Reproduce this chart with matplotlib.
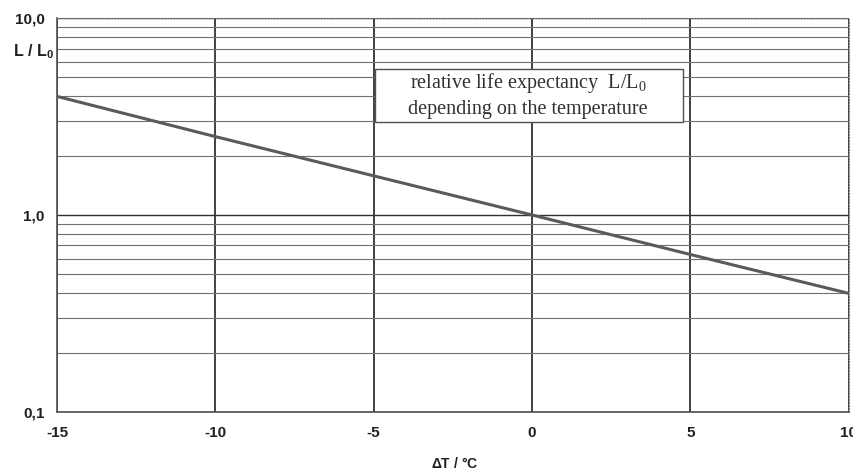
import numpy as np
import matplotlib.pyplot as plt
from matplotlib.patches import Rectangle
from matplotlib.ticker import FixedLocator, FixedFormatter, LogLocator, NullFormatter

plt.rcParams['axes.unicode_minus'] = False

# values
delta_t = [-15, -10, -5, 0, 5, 10]
life_ratio = [4.0, 2.5, 1.58, 1.0, 0.63, 0.4]

x_ticks = [-15, -10, -5, 0, 5, 10]
y_ticks = [0.1, 1.0, 10.0]
y_labels = ['0,1', '1,0', '10,0']

fig = plt.figure(figsize=(8.54, 4.74), dpi=100)
ax = fig.add_axes([0.0667, 0.131, 0.927, 0.831])

ax.set_yscale('log')
ax.set_xlim(-15, 10)
ax.set_ylim(0.1, 10)

# grid: horizontal minor lines, vertical lines every 5 K
ax.yaxis.set_minor_locator(LogLocator(base=10, subs=np.arange(2, 10)))
ax.yaxis.set_minor_formatter(NullFormatter())
ax.grid(which='minor', axis='y', color='#707070', lw=0.8)
ax.grid(which='major', axis='y', color='#303030', lw=1.0)
ax.grid(which='major', axis='x', color='#202020', lw=1.2)

ax.plot(delta_t, life_ratio, color='#5a5a5a', lw=2.2, zorder=3)

ax.xaxis.set_major_locator(FixedLocator(x_ticks))
ax.yaxis.set_major_locator(FixedLocator(y_ticks))
ax.yaxis.set_major_formatter(FixedFormatter(y_labels))
ax.tick_params(axis='x', length=0, pad=10, labelsize=11, colors='#202020')
ax.tick_params(axis='y', which='both', length=0, pad=9, labelsize=11, colors='#202020')
for lab in ax.get_xticklabels() + ax.get_yticklabels():
    lab.set_fontweight('bold')
    lab.set_family('Liberation Sans')

for side in ['top', 'right']:
    ax.spines[side].set_linestyle(':')
    ax.spines[side].set_color('#808080')
for side in ['left', 'bottom']:
    ax.spines[side].set_color('#505050')
    ax.spines[side].set_linewidth(1.2)

fig.text(455 / 854, 1 - 464 / 474, r'$\mathregular{\Delta}$T / °C', ha='center', va='center',
         fontsize=10, fontweight='bold', family='Liberation Sans', color='#202020')
fig.text(13 / 854, 1 - 52 / 474, r'L / L$_\mathregular{0}$', ha='left', va='center',
         fontsize=11.5, fontweight='bold', family='Liberation Sans', color='#202020')

# caption box
ax.add_patch(Rectangle((-4.96, 2.97), 9.72, 2.53, fc='white', ec='#505050', lw=1.0, zorder=4))
ax.text(-0.13, 4.05, 'relative life expectancy  L/L$_\\mathregular{0}$\ndepending on the temperature',
        ha='center', va='center', fontsize=14.5, family='Liberation Serif', color='#303030',
        linespacing=1.35, zorder=5)

fig.savefig('out.png', dpi=100)
